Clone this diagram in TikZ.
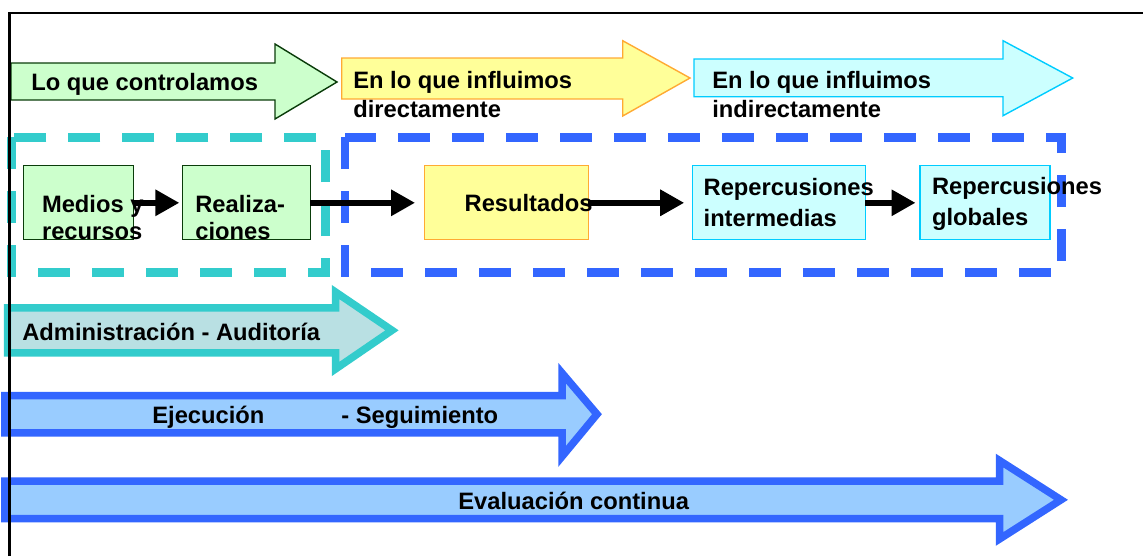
\documentclass[tikz,border=0pt]{standalone}
\usepackage{fontspec}
\setmainfont{Liberation Sans}
\usetikzlibrary{arrows.meta}

\definecolor{ctrlfill}{RGB}{204,255,204}
\definecolor{ctrldraw}{RGB}{10,60,10}
\definecolor{dirfill}{RGB}{255,255,153}
\definecolor{dirdraw}{RGB}{255,170,51}
\definecolor{indfill}{RGB}{204,255,255}
\definecolor{inddraw}{RGB}{0,204,255}
\definecolor{admfill}{RGB}{185,224,227}
\definecolor{admdraw}{RGB}{51,204,204}
\definecolor{ejefill}{RGB}{153,204,255}
\definecolor{ejedraw}{RGB}{51,102,255}

\begin{document}
\begin{tikzpicture}[x=0.02cm,y=-0.02cm,
  txt/.style={font=\bfseries\fontsize{13.5}{16.5}\selectfont, inner sep=0pt, anchor=base west, align=left},
  box/.style={rectangle, minimum height=1.486cm, inner sep=0pt, outer sep=0pt, line width=0.6pt},
  flow/.style={-{Triangle[length=0.48cm,width=0.5cm]}, line width=0.12cm},
  band/.style={line width=0.15cm, line join=miter},
  zone/.style={line width=0.17cm, dash pattern=on 0.64cm off 0.44cm}]
\useasboundingbox (0,0) rectangle (1143,556);

% top arrows
\draw[fill=ctrlfill,draw=ctrldraw,line width=0.8pt] (11,63) -- (275,63) -- (275,44) -- (337,82) -- (275,119) -- (275,100) -- (11,100) -- cycle;
\draw[fill=dirfill,draw=dirdraw,line width=0.8pt] (341.7,58) -- (622.7,58) -- (622.7,40.7) -- (690,78) -- (622.7,116) -- (622.7,99) -- (341.7,99) -- cycle;
\draw[fill=indfill,draw=inddraw,line width=0.8pt] (694,59) -- (1003,59) -- (1003,40.7) -- (1072.7,78) -- (1003,115.7) -- (1003,96.7) -- (694,96.7) -- cycle;
\node[txt] (tctrl) at (31,90.7) {Lo que controlamos};
\node[txt] (tdir) at (353,117.3) {En lo que influimos\\directamente};
\node[txt] (tind) at (712,117.3) {En lo que influimos\\indirectamente};

% bottom arrows
\draw[band,fill=admfill,draw=admdraw] (7.5,307.8) -- (335.5,307.8) -- (335.5,292) -- (392,330.3) -- (335.5,369) -- (335.5,352.9) -- (7.5,352.9) -- cycle;
\draw[band,fill=ejefill,draw=ejedraw] (4.8,395.5) -- (562,395.5) -- (562,373) -- (597,414.2) -- (562,456.5) -- (562,432.9) -- (4.8,432.9) -- cycle;
\draw[band,fill=ejefill,draw=ejedraw] (4.8,481) -- (999.5,481) -- (999.5,460.5) -- (1061,499.8) -- (999.5,539) -- (999.5,518.5) -- (4.8,518.5) -- cycle;
\node[txt] (tadm) at (22,340) {Administración - Auditoría};
\node[txt] (teje) at (152,423.3) {Ejecución\hspace*{1.54cm}- Seguimiento};
\node[txt] (teva) at (458,509) {Evaluación continua};

% dashed zones
\draw[zone,draw=admdraw] (11.5,137.3) rectangle (325.5,272.7);
\draw[zone,draw=ejedraw] (344.8,137.3) rectangle (1061.7,272.7);

% chain of boxes
\node[box,draw=ctrldraw,fill=ctrlfill,minimum width=2.2cm] (medios) at (78.3,202.8) {};
\node[box,draw=ctrldraw,fill=ctrlfill,minimum width=2.554cm] (realiz) at (246.2,202.8) {};
\node[box,draw=dirdraw,fill=dirfill,minimum width=3.286cm] (result) at (506.2,202.8) {};
\node[box,draw=inddraw,fill=indfill,minimum width=3.452cm] (repint) at (779,202.8) {};
\node[box,draw=inddraw,fill=indfill,minimum width=2.6cm] (repglob) at (985,202.8) {};

\node[txt] (tmedios) at (41.7,239) {Medios y\\[-1.2pt]recursos};
\node[txt] (trealiz) at (195,239) {Realiza-\\[-1.2pt]ciones};
\node[txt] (tresult) at (464.3,211.7) {Resultados};
\node[txt] (trepint) at (703.3,226.7) {Repercusiones\\[1pt]intermedias};
\node[txt] (trepglob) at (931.7,225.7) {Repercusiones\\[1pt]globales};

\draw[flow,shorten >=0.06cm] (medios) -- (realiz);
\draw[flow,shorten >=0.18cm] (realiz) -- (result);
\draw[flow,shorten >=0.17cm] (result) -- (repint);
\draw[flow,shorten >=0.09cm] (repint) -- (repglob);

% frame
\draw[black,line width=1.4pt] (9.5,556) -- (9.5,12.8) -- (1143,12.8);
\end{tikzpicture}
\end{document}
